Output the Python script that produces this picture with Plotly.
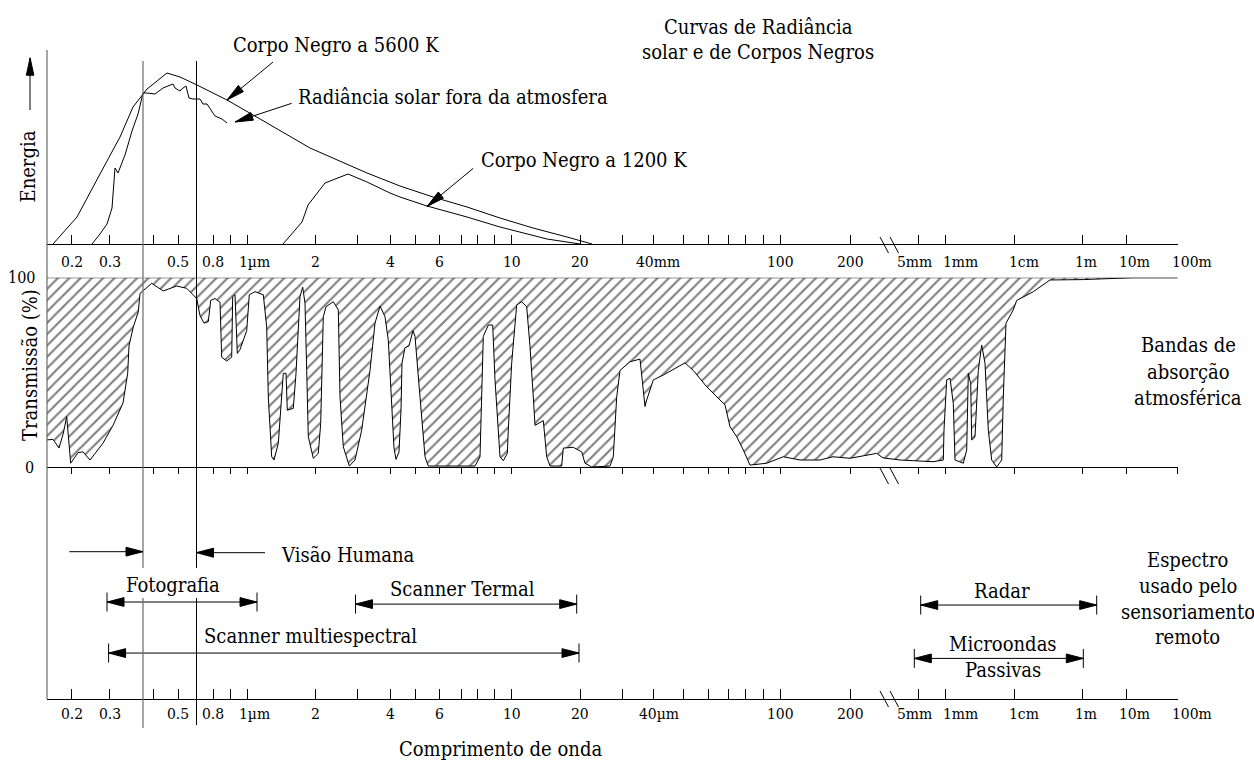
import math
import plotly.graph_objects as go

W, H = 1254, 760
FONT = "DejaVu Serif Condensed, DejaVu Serif"
TXT = 20      # label size
TICK = 15.5   # tick label size

# ------------------------------------------------------------------ data
# positions along the (non-uniform) wavelength scale, and their labels
TICK_POS = [71.7, 109.7, 153.7, 178.3, 213.3, 230.7, 247.3, 315.3, 357.7, 390.7,
            415.0, 439.7, 461.0, 477.7, 494.3, 511.7, 580.0, 622.7, 653.3, 683.3,
            708.3, 728.3, 745.0, 763.3, 780.0, 850.7, 918.0, 945.0, 1014.0, 1082.7,
            1126.7, 1177.7]
TOP_TICK_LABELS = ["0.2", "0.3", "", "0.5", "0.8", "", "1µm", "2", "", "4",
                   "", "6", "", "", "", "10", "20", "", "40mm", "",
                   "", "", "", "", "100", "200", "5mm", "1mm", "1cm", "1m",
                   "10m", "100m"]
BOTTOM_TICK_LABELS = ["0.2", "0.3", "", "0.5", "0.8", "", "1µm", "2", "", "4",
                      "", "6", "", "", "", "10", "20", "", "40µm", "",
                      "", "", "", "", "100", "200", "5mm", "1mm", "1cm", "1m",
                      "10m", "100m"]

# radiance curves (energy, arbitrary units)
BB5600_POS = [53, 77, 100, 120, 133, 147, 167, 180, 197, 227, 267, 310, 367, 400,
              433, 467, 500, 533, 567, 592]
BB5600_E = [0, 27, 70, 107, 137, 155, 171, 167, 159, 144, 121, 96, 71, 58,
            47, 37, 26, 16, 7, 0]
BB1200_POS = [283, 302, 308, 325, 348, 367, 390, 400, 427, 467, 500, 547, 580]
BB1200_E = [0, 22, 39, 61, 70, 62, 51, 47, 38, 27, 17, 5, 0]
SOLAR_POS = [92, 100, 107, 112, 115, 118, 125, 132, 138, 143, 147, 155, 163, 173,
             175, 180, 183, 186, 189, 193, 200, 203, 207, 210, 215, 222, 227]
SOLAR_E = [0, 10, 20, 36, 76, 71, 89, 113, 130, 151, 151, 150, 156, 160,
           156, 153, 156, 158, 146, 145, 145, 140, 140, 135, 128, 125, 121]

# atmospheric transmission (%)
TRANS_POS = [47, 53, 59, 63.3, 66.7, 70.7, 78, 83, 90, 96.7, 103, 113, 123, 127.7, 129,
             133.3, 138.3, 140, 151.7, 163.3, 176.7, 186.7, 196.7, 200, 204, 208.3,
             210.7, 215, 220, 221.7, 226.7, 231.7, 232.7, 235, 237.3, 240, 246.7,
             249.3, 255, 263.3, 266.7, 268.3, 271.7, 274, 278.3, 283.3, 286, 287.3,
             293.3, 296, 300, 302.7, 305, 306.7, 308.3, 313.3, 318.3, 320.7, 323.3,
             326, 333.3, 338.3, 340, 343.3, 349.3, 355, 361.7, 370, 375, 380, 385,
             388.3, 391, 394, 396, 399, 401, 402, 405, 409, 413, 415, 420, 425,
             428.3, 475, 480, 481.7, 483.3, 488.3, 492.7, 495, 498.3, 500, 503.3,
             507.3, 508.3, 511.7, 516.7, 521.7, 526.7, 530, 533.3, 535, 543.3,
             546.7, 550, 561.7, 563.3, 573.3, 581.7, 585, 591.7, 610, 613.3, 616.7,
             620, 630, 640, 641.7, 645, 646.7, 653.3, 663.3, 671.7, 685, 693.3,
             706.7, 725, 730, 736.7, 743.3, 750, 766.7, 783.3, 800, 820, 833, 850,
             876.7, 883, 900, 933, 943.3, 944, 946.7, 950, 953.3, 955, 963.3, 966.7,
             968.3, 970.7, 971.7, 975, 978.3, 981.7, 985, 988.3, 991.7, 996.7,
             1001.7, 1003.3, 1006, 1013.3, 1016.7, 1033.3, 1050, 1083.3, 1133.3,
             1177.7]
TRANS_PCT = [14.3, 14.6, 10, 17.8, 26.6, 2, 7.6, 8, 3.7, 8, 12.6, 22, 33.8, 49.5, 64,
             74, 82, 91.7, 97, 93, 95.6, 94.4, 89, 80, 76, 76.8,
             88, 89, 87, 58, 56, 58, 90, 91, 60, 62, 72,
             91, 92.6, 91, 74, 37, 5.4, 3.7, 12.5, 49.5, 49.5, 30,
             31, 49.5, 90, 95, 86.5, 51, 16, 4.6, 7.2, 23, 79.4,
             84.7, 87.3, 83, 37, 10.7, 0.5, 3.7, 19.5, 51, 76, 85, 79.4,
             67, 40, 10, 4, 8, 30, 55, 63, 64, 72, 69, 37, 5.4,
             0.5, 0.5, 5.4, 37, 69, 75, 75, 46, 19.5, 5.4, 3.3,
             7.2, 19.5, 55, 85.6, 87.3, 84.7, 63.6, 37, 22, 24.5,
             5.4, 0.5, 0.5, 10, 10.4, 8, 2, 0, 0.5, 5.4, 37,
             51, 55.6, 57, 49.5, 32, 35.4, 46, 48.6, 51, 55, 51,
             42.4, 32.8, 21.3, 16, 9, 1, 2, 5.4, 3.7, 3.7, 5.4, 4.6,
             7.2, 4.8, 3.7, 2.8, 3.7, 19.5, 46, 46.9, 33.6, 3.7, 2, 9,
             49.5, 44, 14.3, 16, 51, 64.4, 54.8, 19.5, 3.7, 0,
             3.7, 37, 76, 83, 88, 92.6, 98.8, 99, 100,
             100]

# limits of human vision (0.4 and 0.7 µm) on the scale
VISION_LIMITS = [143.0, 196.5]

# remote-sensing systems: spectral range on the scale
SENSORS = ["Fotografia", "Scanner Termal", "Scanner multiespectral", "Radar",
           "Microondas"]
SENSOR_START = [107.0, 355.5, 108.6, 920.7, 914.3]
SENSOR_END = [257.0, 576.7, 579.0, 1096.7, 1083.3]

# ------------------------------------------------------------------ layout geometry
X_DOM = [47 / W, 1177.7 / W]
X_RNG = [47, 1177.7]
Y_DOM = {"y": [1 - 244 / H, 1.0], "y2": [1 - 467 / H, 1 - 277.7 / H], "y3": [1 - 699 / H, 1 - 467 / H]}
Y_RNG = {"y": [0, 244], "y2": [0, 100], "y3": [0, 1]}

# row levels in the lower panel (fraction of panel height)
SENSOR_LEVEL = [0.418, 0.409, 0.198, 0.405, 0.175]
SENSOR_LABEL_LEVEL = [0.491, 0.474, 0.273, 0.467, 0.237]
SENSOR_LABEL_X = [173, 462, 310, 1001.7, 1003]

# horizontal shift (px) of some tick labels relative to their tick
LABEL_SHIFT = {"1µm": 6.7, "40mm": 4.2, "40µm": 5.7, "5mm": -3.7, "1mm": 15.5,
               "1cm": 9.7, "1m": 3, "10m": 8, "100m": 14.3}
TOP_LABEL_Y = 261.5
BOTTOM_LABEL_Y = 714


def x_px(ref, v):
    if ref == "paper":
        return v * W
    f = (v - X_RNG[0]) / (X_RNG[1] - X_RNG[0])
    return (X_DOM[0] + f * (X_DOM[1] - X_DOM[0])) * W


def px_x(ref, p):
    if ref == "paper":
        return p / W
    f = (p / W - X_DOM[0]) / (X_DOM[1] - X_DOM[0])
    return X_RNG[0] + f * (X_RNG[1] - X_RNG[0])


def y_px(ref, v):
    if ref == "paper":
        return (1 - v) * H
    d, r = Y_DOM[ref], Y_RNG[ref]
    f = (v - r[0]) / (r[1] - r[0])
    return (1 - (d[0] + f * (d[1] - d[0]))) * H


def px_y(ref, p):
    if ref == "paper":
        return 1 - p / H
    d, r = Y_DOM[ref], Y_RNG[ref]
    f = ((1 - p / H) - d[0]) / (d[1] - d[0])
    return r[0] + f * (r[1] - r[0])


shapes = []


def line(x0, y0, x1, y1, xref, yref, color="black", width=1):
    shapes.append(dict(type="line", x0=x0, y0=y0, x1=x1, y1=y1, xref=xref, yref=yref,
                       line=dict(color=color, width=width)))


def head(tail, tip, xref, yref, L=17, Wd=9):
    tx, ty = x_px(xref, tail[0]), y_px(yref, tail[1])
    hx, hy = x_px(xref, tip[0]), y_px(yref, tip[1])
    dx, dy = hx - tx, hy - ty
    n = math.hypot(dx, dy)
    ux, uy = dx / n, dy / n
    bx, by = hx - L * ux, hy - L * uy
    nx, ny = -uy, ux
    pts = [(hx, hy), (bx + nx * Wd / 2, by + ny * Wd / 2), (bx - nx * Wd / 2, by - ny * Wd / 2)]
    path = "M " + " L ".join(f"{px_x(xref, a):.3f},{px_y(yref, b):.3f}" for a, b in pts) + " Z"
    shapes.append(dict(type="path", path=path, xref=xref, yref=yref,
                       fillcolor="black", line=dict(color="black", width=1)))


def arrow(tail, tip, xref, yref, L=17, Wd=9):
    line(tail[0], tail[1], tip[0], tip[1], xref, yref)
    head(tail, tip, xref, yref, L, Wd)


annotations = []


def text(t, x, y, xref="paper", yref="paper", xanchor="center", size=TXT, angle=0, xshift=0):
    annotations.append(dict(text=t, x=x, y=y, xref=xref, yref=yref, xanchor=xanchor,
                            yanchor="middle", showarrow=False, textangle=angle, xshift=xshift,
                            font=dict(family=FONT, size=size, color="black")))


def P(xp):
    return xp / W


def Q(yp):
    return 1 - yp / H


# ------------------------------------------------------------------ traces
fig = go.Figure()
for xs, ys in [(BB5600_POS, BB5600_E), (BB1200_POS, BB1200_E), (SOLAR_POS, SOLAR_E)]:
    fig.add_trace(go.Scatter(x=xs, y=ys, mode="lines", xaxis="x", yaxis="y",
                             line=dict(color="black", width=1), hoverinfo="skip"))

fig.add_trace(go.Scatter(x=[TRANS_POS[0], TRANS_POS[-1]], y=[100, 100], mode="lines",
                         xaxis="x2", yaxis="y2", line=dict(color="black", width=1),
                         hoverinfo="skip"))
fig.add_trace(go.Scatter(x=TRANS_POS, y=TRANS_PCT, mode="lines", xaxis="x2", yaxis="y2",
                         fill="tonexty", fillcolor="white",
                         fillpattern=dict(shape="/", size=8, solidity=0.27,
                                          fgcolor="black", bgcolor="white"),
                         line=dict(color="black", width=1), hoverinfo="skip"))

# sensor ranges (dimension lines) in the lower panel
bar = 9.5 / (699 - 467)
for name, s, e, lvl in zip(SENSORS, SENSOR_START, SENSOR_END, SENSOR_LEVEL):
    fig.add_trace(go.Scatter(x=[s, e], y=[lvl, lvl], mode="lines", xaxis="x3", yaxis="y3",
                             line=dict(color="black", width=1), hoverinfo="skip"))
    line(s, lvl - bar, s, lvl + bar, "x3", "y3")
    line(e, lvl - bar, e, lvl + bar, "x3", "y3")
    head((e, lvl), (s, lvl), "x3", "y3")
    head((s, lvl), (e, lvl), "x3", "y3")

# ------------------------------------------------------------------ decorations
line(P(47), Q(50), P(47), Q(699), "paper", "paper", color="#6a6a6a", width=1.2)
for xv, col, bottom in [(VISION_LIMITS[0], "#6a6a6a", 728), (VISION_LIMITS[1], "black", 725)]:
    w = 1.2 if col != "black" else 1
    line(xv, Q(61), xv, Q(568), "x", "paper", color=col, width=w)
    line(xv, Q(598), xv, Q(bottom), "x", "paper", color=col, width=w)

for yp in [237, 468, 691]:
    for off in [0, 10]:
        line(P(880 + off), Q(yp), P(888.5 + off), Q(yp + 16), "paper", "paper")

arrow((P(30), Q(110)), (P(30), Q(58)), "paper", "paper", L=17, Wd=8)

arrow((273, px_y("y", 62)), (227, 144), "x", "y", L=18, Wd=8)
arrow((291.7, px_y("y", 103.3)), (235, 122), "x", "y", L=18, Wd=8)
arrow((473.3, px_y("y", 168.3)), (427, 37.5), "x", "y", L=18, Wd=8)

lv = px_y("y3", 551.7)
arrow((69.3, lv), (VISION_LIMITS[0], lv), "x3", "y3")
lv2 = px_y("y3", 552.7)
arrow((265, lv2), (VISION_LIMITS[1], lv2), "x3", "y3")

# tick labels of the two wavelength scales
for labels, yp in [(TOP_TICK_LABELS, TOP_LABEL_Y), (BOTTOM_TICK_LABELS, BOTTOM_LABEL_Y)]:
    for pos, lbl in zip(TICK_POS, labels):
        if lbl:
            text(lbl, pos, Q(yp), "x", "paper", size=TICK, xshift=LABEL_SHIFT.get(lbl, 0))

for name, xl, yl in zip(SENSORS, SENSOR_LABEL_X, SENSOR_LABEL_LEVEL):
    text(name, xl, yl, "x3", "y3")
text("Passivas", 1003, px_y("y3", 670), "x3", "y3")
text("Visão Humana", 279, px_y("y3", 555), "x3", "y3", xanchor="left")

text("Corpo Negro a 5600 K", 231, 244 - 45, "x", "y", xanchor="left")
text("Radiância solar fora da atmosfera", 296, 244 - 97, "x", "y", xanchor="left")
text("Corpo Negro a 1200 K", 479, 244 - 160, "x", "y", xanchor="left")
text("Curvas de Radiância", P(758), Q(27))
text("solar e de Corpos Negros", P(758), Q(52))
for t, yp in [("Bandas de", 345), ("absorção", 372), ("atmosférica", 398)]:
    text(t, P(1188), Q(yp))
for t, yp in [("Espectro", 560), ("usado pelo", 586), ("sensoriamento", 611.7), ("remoto", 636.7)]:
    text(t, P(1187.5), Q(yp))
text("Comprimento de onda", P(501), Q(749))
text("Energia", P(27.5), Q(167), angle=-90)
text("Transmissão (%)", P(30), Q(365), angle=-90)
text("100", P(37), Q(277.7), xanchor="right", size=16)
text("0", P(29.5), Q(467), size=16)

# ------------------------------------------------------------------ axes
common = dict(domain=X_DOM, range=X_RNG, showgrid=False, zeroline=False, showline=True,
              linecolor="black", linewidth=1, tickcolor="black", tickwidth=1,
              tickmode="array", tickvals=TICK_POS, showticklabels=False,
              automargin=False, fixedrange=True)
yc = dict(visible=False, fixedrange=True, automargin=False)
fig.update_layout(
    width=W, height=H, autosize=False,
    margin=dict(l=0, r=0, t=0, b=0, pad=0, autoexpand=False),
    paper_bgcolor="white", plot_bgcolor="rgba(0,0,0,0)", showlegend=False,
    font=dict(family=FONT, color="black"),
    xaxis=dict(anchor="y", ticks="inside", ticklen=9, **common),
    xaxis2=dict(anchor="y2", ticks="outside", ticklen=6, **common),
    xaxis3=dict(anchor="y3", ticks="inside", ticklen=10, **common),
    yaxis=dict(anchor="x", domain=Y_DOM["y"], range=Y_RNG["y"], **yc),
    yaxis2=dict(anchor="x2", domain=Y_DOM["y2"], range=Y_RNG["y2"], **yc),
    yaxis3=dict(anchor="x3", domain=Y_DOM["y3"], range=Y_RNG["y3"], **yc),
    shapes=shapes, annotations=annotations,
)

POST = ("document.documentElement.style.overflow='hidden';"
        "document.body.style.margin='0';document.body.style.overflow='hidden';")
fig.write_html("out.html", config={"responsive": False, "displayModeBar": False},
               post_script=POST)
